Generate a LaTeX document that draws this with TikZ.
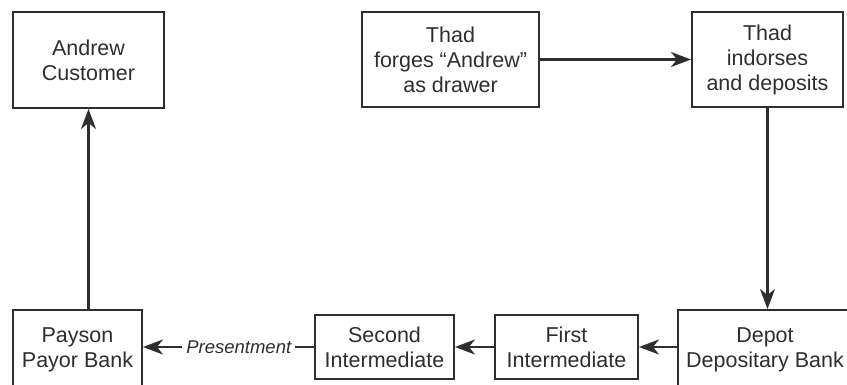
\documentclass[tikz,border=0pt]{standalone}
\usepackage{fontspec}
\setmainfont{Liberation Sans}
\usetikzlibrary{arrows.meta}
\definecolor{ink}{HTML}{2E2E2E}
\begin{document}
\begin{tikzpicture}[x=1pt,y=-1pt,
  box/.style={draw=ink,line width=2pt,text=ink,align=center,inner sep=0pt,
    font=\fontsize{21.5}{25}\selectfont},
  conn/.style={draw=ink,line width=2.2pt,-{Stealth[length=20pt,width=15pt,inset=6pt]}}]
\useasboundingbox (0,0) rectangle (847,385);
\node[box,minimum width=151pt,minimum height=96pt] (andrew) at (88.5,60) {Andrew\\Customer};
\node[box,minimum width=177pt,minimum height=95pt] (forges) at (450.5,59.5) {Thad\\forges “Andrew”\\as drawer};
\node[box,minimum width=151pt,minimum height=95pt] (indorses) at (767.5,59.5) {Thad\\indorses\\and deposits};
\node[box,minimum width=129pt,minimum height=80pt] (payson) at (77.5,350) {Payson\\Payor Bank};
\node[box,minimum width=139pt,minimum height=64pt] (second) at (384.5,347) {Second\\Intermediate};
\node[box,minimum width=143pt,minimum height=64pt] (first) at (566.5,347) {First\\Intermediate};
\node[box,minimum width=174pt,minimum height=80pt] (depot) at (765,350) {Depot\\Depositary Bank};
\draw[conn] (forges.east) -- (indorses.west);
\draw[conn] (indorses.south) -- (indorses.south |- depot.north);
\draw[conn] (first.east -| depot.west) -- (first.east);
\draw[conn] (first.west) -- (second.east);
\draw[conn] (second.west) -- node[pos=0.44,fill=white,text=ink,inner sep=4pt,font=\fontsize{18.5}{20}\selectfont\itshape]{Presentment} (second.west -| payson.east);
\draw[conn] (andrew.south |- payson.north) -- (andrew.south);
\end{tikzpicture}
\end{document}
